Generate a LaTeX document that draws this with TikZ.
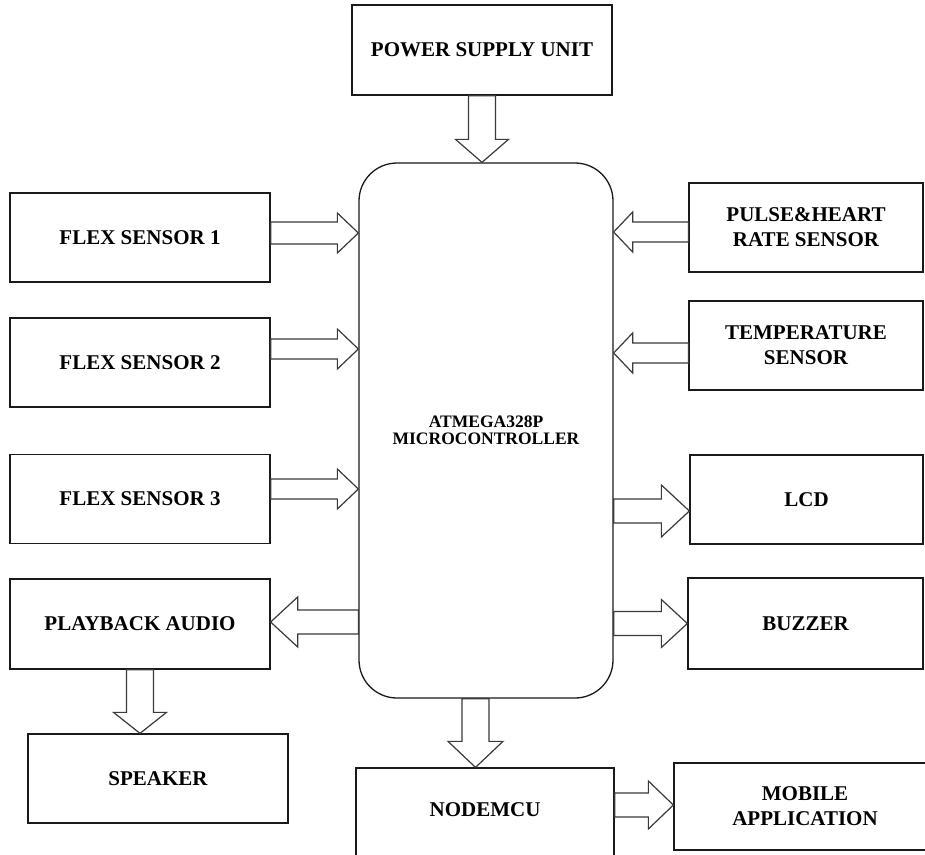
\documentclass[tikz,border=0pt]{standalone}
\usepackage{fontspec}
\setmainfont{Liberation Serif}
\usepackage{tikz}
\usetikzlibrary{calc}
\definecolor{boxline}{HTML}{1A1A1A}
\definecolor{arrline}{HTML}{3A3A3A}
\tikzset{arrow shaft/.store in=\arshaft, arrow head/.store in=\arhead, arrow len/.store in=\arlen,
  arrow shaft=11, arrow head=20, arrow len=22}
% hollow block arrow from #2 to #3
\newcommand{\blockarrow}[3][]{%
  \begin{scope}[#1]
  \coordinate (hb) at ($(#3)!\arlen pt!(#2)$);
  \draw[blockarr] ($(#2)!\arshaft pt!90:(#3)$) -- ($(hb)!\arshaft pt!90:(#3)$) -- ($(hb)!\arhead pt!90:(#3)$) -- (#3)
    -- ($(hb)!\arhead pt!-90:(#3)$) -- ($(hb)!\arshaft pt!-90:(#3)$) -- ($(#2)!\arshaft pt!-90:(#3)$) -- cycle;
  \end{scope}}

\begin{document}
\begin{tikzpicture}[x=1pt,y=-1pt,
  box/.style={draw=boxline,line width=1.3pt,fill=white,minimum width=260pt,minimum height=89pt,align=center,font=\bfseries\fontsize{21}{25}\selectfont,inner sep=2pt},
  mcubox/.style={draw=boxline,line width=1.3pt,fill=white,rounded corners=38pt,minimum width=254pt,minimum height=535pt,align=center,font=\bfseries\fontsize{17.5}{17.5}\selectfont},
  blockarr/.style={draw=arrline,line width=1.2pt,fill=white,line join=miter},
  vert/.style={arrow shaft=13.5,arrow head=26.5,arrow len=23}]
  \clip (0,0) rectangle (925,854);
  \fill[white] (0,0) rectangle (925,854);
  \node[mcubox] (mcu) at (486,430.5) {ATMEGA328P\\MICROCONTROLLER};
  \node[box] (psu) at (482,50) [minimum height=90pt] {POWER SUPPLY UNIT};
  % left column
  \node[box] (flexA) at (140,237.5) {FLEX SENSOR 1};
  \node[box] (flexB) at (140,362.5) {FLEX SENSOR 2};
  \node[box] (flexC) at (140,499) {FLEX SENSOR 3};
  \node[box] (play) at (140,624) [minimum height=90pt] {PLAYBACK AUDIO};
  \node[box] (spk) at (158,778.5) {SPEAKER};
  % right column
  \node[box] (pulse) at (806,227.5) [minimum width=234pt] {PULSE\&HEART\\RATE SENSOR};
  \node[box] (temp) at (806,345.5) [minimum width=234pt] {TEMPERATURE\\SENSOR};
  \node[box] (lcd) at (806.5,499.5) [minimum width=233pt] {LCD};
  \node[box] (buzz) at (805.5,623.5) [minimum width=235pt,minimum height=91pt] {BUZZER};
  % bottom row, cut by the page edge
  \node[box] (node) at (485,818) [minimum width=258pt,minimum height=100pt] {\raisebox{8pt}[\height][\depth]{NODEMCU}};
  \node[box] (app) at (805,806.5) [minimum width=262pt,minimum height=87pt] {MOBILE\\APPLICATION};
  % arrow ends
  \coordinate (pA) at (psu.south);
  \coordinate (pB) at (psu.south |- mcu.north);
  \coordinate (f1A) at ([yshift=4.5pt]flexA.east);
  \coordinate (f1B) at (f1A -| mcu.west);
  \coordinate (f2A) at ([yshift=13.5pt]flexB.east);
  \coordinate (f2B) at (f2A -| mcu.west);
  \coordinate (f3A) at ([yshift=10pt]flexC.east);
  \coordinate (f3B) at (f3A -| mcu.west);
  \coordinate (huA) at ([yshift=-4.5pt]pulse.west);
  \coordinate (huB) at (huA -| mcu.east);
  \coordinate (tpA) at ([yshift=-7.5pt]temp.west);
  \coordinate (tpB) at (tpA -| mcu.east);
  \coordinate (lcB) at ([yshift=-11.5pt]lcd.west);
  \coordinate (lcA) at (lcB -| mcu.east);
  \coordinate (bzB) at (buzz.west);
  \coordinate (bzA) at (bzB -| mcu.east);
  \coordinate (plB) at ([yshift=2pt]play.east);
  \coordinate (plA) at (plB -| mcu.west);
  \coordinate (skA) at (play.south);
  \coordinate (skB) at (play.south |- spk.north);
  \coordinate (nmA) at ([xshift=-10.5pt]mcu.south);
  \coordinate (nmB) at (nmA |- node.north);
  \coordinate (apB) at ([yshift=1.5pt]app.west);
  \coordinate (apA) at (apB -| node.east);
  \blockarrow[vert]{pA}{pB}
  \blockarrow[arrow len=21]{f1A}{f1B}
  \blockarrow[arrow shaft=10,arrow len=21]{f2A}{f2B}
  \blockarrow[arrow shaft=10,arrow len=21]{f3A}{f3B}
  \blockarrow[arrow shaft=10,arrow len=19]{huA}{huB}
  \blockarrow[arrow shaft=10,arrow len=19]{tpA}{tpB}
  \blockarrow[arrow shaft=12,arrow head=26,arrow len=28]{lcA}{lcB}
  \blockarrow[arrow shaft=12,arrow head=24,arrow len=26]{bzA}{bzB}
  \blockarrow[arrow shaft=12,arrow head=25,arrow len=27]{plA}{plB}
  \blockarrow[vert,arrow len=21]{skA}{skB}
  \blockarrow[vert,arrow head=27.5,arrow len=26]{nmA}{nmB}
  \blockarrow[arrow shaft=12,arrow head=24,arrow len=25]{apA}{apB}
\end{tikzpicture}
\end{document}
